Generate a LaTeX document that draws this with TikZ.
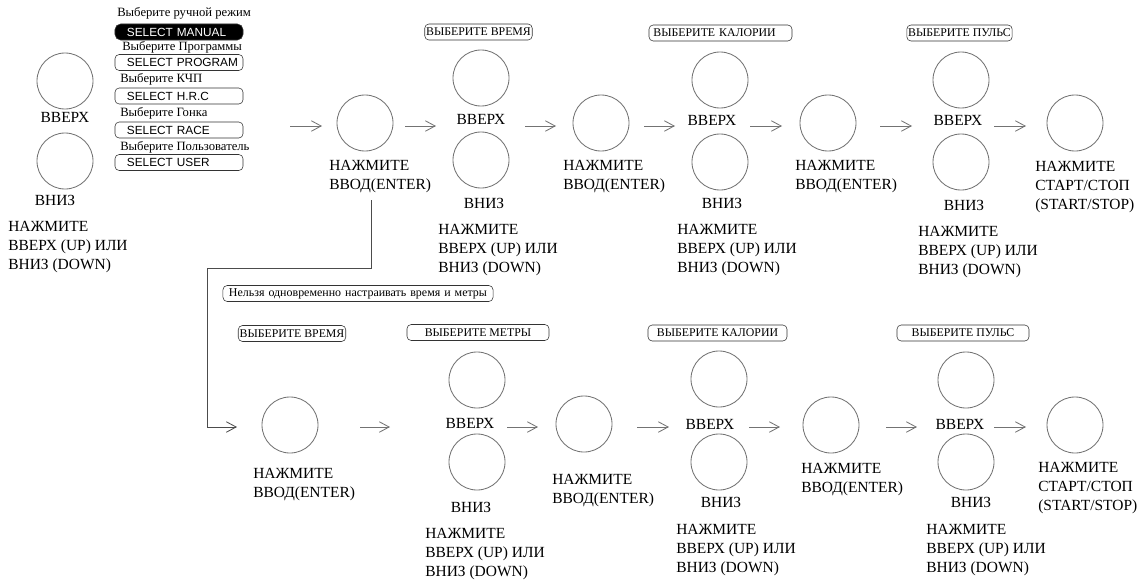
\documentclass[tikz,border=0pt]{standalone}
\usepackage{fontspec}
\setmainfont{Liberation Serif}
\setsansfont{Liberation Sans}
\usetikzlibrary{arrows.meta}

\begin{document}
\begin{tikzpicture}[x=0.025cm, y=-0.025cm,
  btn/.style={circle, draw=black!55, line width=0.6pt, minimum size=1.4cm, inner sep=0pt},
  lbl/.style={inner sep=0pt, font=\fontsize{11}{13.5}\selectfont},
  hint/.style={lbl, anchor=north west, align=left},
  menucap/.style={inner sep=0pt, anchor=west, font=\fontsize{9}{10}\selectfont},
  menu/.style={draw=black!80, rounded corners=3pt, minimum height=0.4cm, text width=2.6cm,
               inner xsep=0.3cm, inner ysep=0pt, align=left, font=\sffamily\fontsize{8.4}{9}\selectfont},
  tag/.style={draw=black!80, rounded corners=3pt, minimum height=0.4cm, inner xsep=1pt,
              inner ysep=0pt, font=\fontsize{8.4}{9}\selectfont},
  flow/.style={-{Straight Barb[length=7pt, width=7.5pt]}, draw=black!55, line width=0.6pt}
]
  \useasboundingbox (0,0) rectangle (1138,579);

  % ── choose mode ──
  \node[btn] (lup) at (65,81) {};
  \node[lbl] (luptxt) at (65,117) {ВВЕРХ};
  \node[btn] (ldn) at (65,161) {};
  \node[lbl] (ldntxt) at (55,200) {ВНИЗ};
  \node[hint] (lhint) at (8,221) {НАЖМИТЕ\\ВВЕРХ (UP) ИЛИ\\ВНИЗ (DOWN)};

  \node[menucap] (c1) at (117,13) {Выберите ручной режим};
  \node[menu, fill=black, text=white, rounded corners=4pt] (m1) at (179,32) {\mbox{SELECT MANUAL}};
  \node[menucap] (c2) at (122,47) {Выберите Программы};
  \node[menu] (m2) at (179,62.5) {\mbox{SELECT PROGRAM}};
  \node[menucap] (c3) at (120,79) {Выберите КЧП};
  \node[menu] (m3) at (179,96) {\mbox{SELECT H.R.C}};
  \node[menucap] (c4) at (120,113) {Выберите Гонка};
  \node[menu] (m4) at (179,130) {\mbox{SELECT RACE}};
  \node[menucap] (c5) at (120,147) {Выберите Пользователь};
  \node[menu] (m5) at (179,162.5) {\mbox{SELECT USER}};

  % ── top row ──
  \node[btn] (ent1) at (365,123) {};
  \node[hint] (ent1txt) at (329,160) {НАЖМИТЕ\\ВВОД(ENTER)};

  \node[tag, minimum width=2.575cm] (tg1) at (478.5,32) {ВЫБЕРИТЕ ВРЕМЯ};
  \node[btn] (up1) at (481,78) {};
  \node[lbl] (up1txt) at (481,119) {ВВЕРХ};
  \node[btn] (dn1) at (481,160) {};
  \node[lbl] (dn1txt) at (484,203) {ВНИЗ};
  \node[hint] (hint1) at (438,224) {НАЖМИТЕ\\ВВЕРХ (UP) ИЛИ\\ВНИЗ (DOWN)};

  \node[btn] (ent2) at (601,123) {};
  \node[hint] (ent2txt) at (563,160) {НАЖМИТЕ\\ВВОД(ENTER)};

  \node[tag, minimum width=3.575cm, text width=3.35cm, inner xsep=0.1cm, align=left] (tg2)
    at (720.5,33) {\mbox{ВЫБЕРИТЕ КАЛОРИИ}};
  \node[btn] (up2) at (720,80) {};
  \node[lbl] (up2txt) at (712,120) {ВВЕРХ};
  \node[btn] (dn2) at (720,162) {};
  \node[lbl] (dn2txt) at (722,203) {ВНИЗ};
  \node[hint] (hint2) at (677,224) {НАЖМИТЕ\\ВВЕРХ (UP) ИЛИ\\ВНИЗ (DOWN)};

  \node[btn] (ent3) at (828,123) {};
  \node[hint] (ent3txt) at (795,160) {НАЖМИТЕ\\ВВОД(ENTER)};

  \node[tag, minimum width=2.625cm] (tg3) at (959.5,33) {ВЫБЕРИТЕ ПУЛЬС};
  \node[btn] (up3) at (961,80) {};
  \node[lbl] (up3txt) at (958,120) {ВВЕРХ};
  \node[btn] (dn3) at (961,162) {};
  \node[lbl] (dn3txt) at (964,205) {ВНИЗ};
  \node[hint] (hint3) at (918,226) {НАЖМИТЕ\\ВВЕРХ (UP) ИЛИ\\ВНИЗ (DOWN)};

  \node[btn] (go1) at (1075,123) {};
  \node[hint] (go1txt) at (1035,161) {НАЖМИТЕ\\СТАРТ/СТОП\\(START/STOP)};

  \path (290,126) coordinate (f1a) (322,126) coordinate (f1b)
        (405,126) coordinate (f2a) (436,126) coordinate (f2b)
        (525,126) coordinate (f3a) (556,126) coordinate (f3b)
        (644,126) coordinate (f4a) (675,126) coordinate (f4b)
        (750,126) coordinate (f5a) (782,126) coordinate (f5b)
        (880,126) coordinate (f6a) (912,126) coordinate (f6b)
        (994,126) coordinate (f7a) (1026,126) coordinate (f7b);
  \draw[flow] (f1a) -- (f1b);
  \draw[flow] (f2a) -- (f2b);
  \draw[flow] (f3a) -- (f3b);
  \draw[flow] (f4a) -- (f4b);
  \draw[flow] (f5a) -- (f5b);
  \draw[flow] (f6a) -- (f6b);
  \draw[flow] (f7a) -- (f7b);

  % ── branch to time / metres ──
  \coordinate (br1) at (371,200);
  \coordinate (br2) at (237,427);
  \draw[flow, draw=black!70] (br1) -- (371,268) -| (207,427) -- (br2);

  % ── bottom row ──
  \node[tag, minimum width=6.75cm, text width=6.45cm, inner xsep=0.15cm, align=left,
        font=\fontsize{8.5}{9}\selectfont] (note) at (358,293.5)
        {Нельзя одновременно настраивать время и метры};

  \node[tag, minimum width=2.6cm] (tg4) at (292,333.5) {ВЫБЕРИТЕ ВРЕМЯ};
  \node[btn] (ent4) at (290,425) {};
  \node[hint] (ent4txt) at (253,468) {НАЖМИТЕ\\ВВОД(ENTER)};

  \node[tag, minimum width=3.55cm] (tg5) at (478,332.5) {ВЫБЕРИТЕ МЕТРЫ};
  \node[btn] (up4) at (477,380) {};
  \node[lbl] (up4txt) at (470,423) {ВВЕРХ};
  \node[btn] (dn4) at (477,462) {};
  \node[lbl] (dn4txt) at (471,507) {ВНИЗ};
  \node[hint] (hint4) at (425,528) {НАЖМИТЕ\\ВВЕРХ (UP) ИЛИ\\ВНИЗ (DOWN)};

  \node[btn] (ent5) at (584,424) {};
  \node[hint] (ent5txt) at (552,474) {НАЖМИТЕ\\ВВОД(ENTER)};

  \node[tag, minimum width=3.475cm] (tg6) at (717.5,333) {ВЫБЕРИТЕ КАЛОРИИ};
  \node[btn] (up5) at (719,379) {};
  \node[lbl] (up5txt) at (710,424) {ВВЕРХ};
  \node[btn] (dn5) at (719,462) {};
  \node[lbl] (dn5txt) at (721,502) {ВНИЗ};
  \node[hint] (hint5) at (676,524) {НАЖМИТЕ\\ВВЕРХ (UP) ИЛИ\\ВНИЗ (DOWN)};

  \node[btn] (ent6) at (831,425) {};
  \node[hint] (ent6txt) at (801,463) {НАЖМИТЕ\\ВВОД(ENTER)};

  \node[tag, minimum width=3.3cm] (tg7) at (963,333) {ВЫБЕРИТЕ ПУЛЬС};
  \node[btn] (up6) at (966,380) {};
  \node[lbl] (up6txt) at (960,424) {ВВЕРХ};
  \node[btn] (dn6) at (966,462) {};
  \node[lbl] (dn6txt) at (971,502) {ВНИЗ};
  \node[hint] (hint6) at (926,524) {НАЖМИТЕ\\ВВЕРХ (UP) ИЛИ\\ВНИЗ (DOWN)};

  \node[btn] (go2) at (1075,425) {};
  \node[hint] (go2txt) at (1038,462) {НАЖМИТЕ\\СТАРТ/СТОП\\(START/STOP)};

  \path (360,427) coordinate (g1a) (390,427) coordinate (g1b)
        (507,427) coordinate (g2a) (538,427) coordinate (g2b)
        (637,427) coordinate (g3a) (669,427) coordinate (g3b)
        (749,427) coordinate (g4a) (780,427) coordinate (g4b)
        (886,427) coordinate (g5a) (917,427) coordinate (g5b)
        (994,427) coordinate (g6a) (1026,427) coordinate (g6b);
  \draw[flow] (g1a) -- (g1b);
  \draw[flow] (g2a) -- (g2b);
  \draw[flow] (g3a) -- (g3b);
  \draw[flow] (g4a) -- (g4b);
  \draw[flow] (g5a) -- (g5b);
  \draw[flow] (g6a) -- (g6b);
\end{tikzpicture}
\end{document}
